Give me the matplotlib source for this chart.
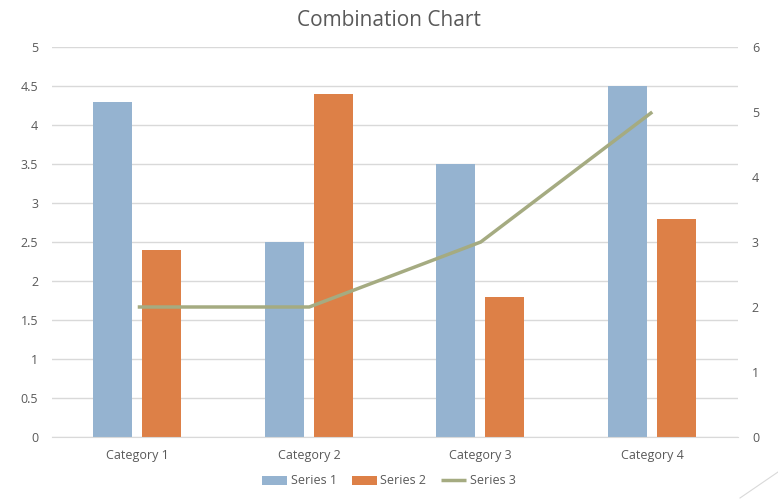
import numpy as np
import matplotlib.pyplot as plt
from matplotlib.lines import Line2D

# Data
categories = ["Category 1", "Category 2", "Category 3", "Category 4"]
series1 = [4.3, 2.5, 3.5, 4.5]
series2 = [2.4, 4.4, 1.8, 2.8]
series3 = [2, 2, 3, 5]

c1 = "#95B3D0"
c2 = "#DD8047"
c3 = "#A5AB81"
txt = "#595959"

plt.rcParams["font.family"] = ["Open Sans", "DejaVu Sans"]

fig = plt.figure(figsize=(7.78, 4.99), dpi=100)
ax = fig.add_axes([52 / 778, 62 / 499, 686 / 778, 390 / 499])
ax2 = ax.twinx()

x = np.arange(len(categories))
w = 0.227
ax.bar(x - 0.147, series1, width=w, color=c1, label="Series 1", zorder=2)
ax.bar(x + 0.139, series2, width=w, color=c2, label="Series 2", zorder=2)
ax2.plot(x, series3, color=c3, linewidth=2.5, label="Series 3", zorder=3,
         solid_capstyle="butt")

ax.set_xlim(-0.5, 3.5)
ax.set_ylim(0, 5)
ax.set_yticks(np.arange(0, 5.01, 0.5))
ax.set_yticklabels(["0", "0.5", "1", "1.5", "2", "2.5", "3", "3.5", "4", "4.5", "5"])
ax2.set_ylim(0, 6)
ax2.set_yticks(range(0, 7))

ax.set_xticks(x)
ax.set_xticklabels(categories)
ax.yaxis.grid(True, color="#D9D9D9", linewidth=1, zorder=0)
ax.set_axisbelow(True)

for a in (ax, ax2):
    for s in a.spines.values():
        s.set_visible(False)
    a.tick_params(length=0, colors=txt, labelsize=9)
ax.spines["bottom"].set_visible(True)
ax.spines["bottom"].set_color("#D9D9D9")
ax.tick_params(axis="y", pad=10)
ax2.tick_params(axis="y", pad=10)
ax.tick_params(axis="x", pad=9)

fig.text(0.5, 1 - 21 / 499, "Combination Chart", color=txt, fontsize=15,
         ha="center", va="center")

h1, l1 = ax.get_legend_handles_labels()
h2, l2 = ax2.get_legend_handles_labels()
fig.legend(h1 + h2, l1 + l2, loc="center", bbox_to_anchor=(0.5, 18 / 499), ncol=3,
           frameon=False, fontsize=9, labelcolor=txt, handlelength=2.0,
           handletextpad=0.3, columnspacing=1.2)

# faint corner mark
fig.add_artist(Line2D([740 / 778, 1.0], [1 / 499, 27 / 499], color="#D9D9D9", linewidth=0.8))

fig.savefig("out.png", dpi=100)
